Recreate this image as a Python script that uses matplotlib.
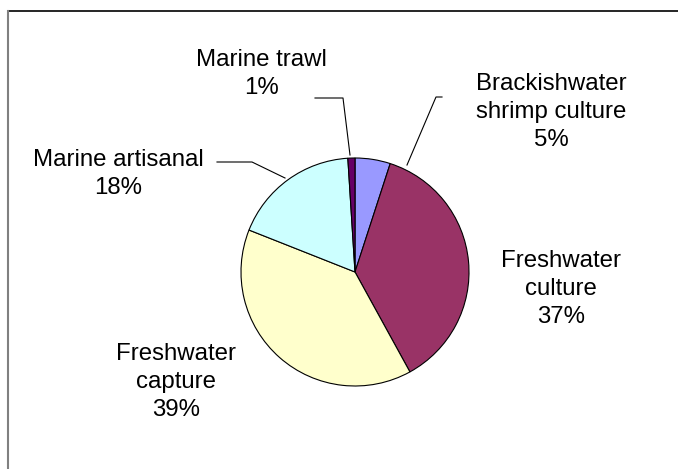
import matplotlib
matplotlib.use("Agg")
import matplotlib.pyplot as plt
from matplotlib.lines import Line2D
from matplotlib.patches import Rectangle

categories = ["Brackishwater\nshrimp culture", "Freshwater\nculture", "Freshwater\ncapture",
              "Marine artisanal", "Marine trawl"]
values = [5, 37, 39, 18, 1]
colors = ["#9999FF", "#993366", "#FFFFCC", "#CCFFFF", "#660066"]

W, H = 678, 469
plt.rcParams['font.family'] = ['Liberation Sans', 'DejaVu Sans']
fig = plt.figure(figsize=(W / 100, H / 100), dpi=100)
ax = fig.add_axes([0, 0, 1, 1])

def Y(py):
    return H - py

cx, cy, r = 355, Y(272), 114
ax.pie(values, colors=colors, startangle=90, counterclock=False,
       center=(cx, cy), radius=r,
       wedgeprops=dict(edgecolor="black", linewidth=0.8))
ax.set_xlim(0, W)
ax.set_ylim(0, H)
ax.set_aspect("auto")
ax.axis("off")

fs = 17.3
# label positions in pixel coordinates (centers)
label_pos = [(551, 112), (561, 289), (176, 382), (118, 174), (261, 74)]
for cat, v, (px, py) in zip(categories, values, label_pos):
    ax.text(px, Y(py), f"{cat}\n{v}%", ha="center", va="center",
            fontsize=fs, linespacing=1.36, color="black", zorder=3)

# the reference clips the bottom of the "5%" label
ax.add_patch(Rectangle((520, Y(162)), 70, 15, facecolor="white", edgecolor="none", zorder=4))

# leader lines
leaders = [
    [(442, 97), (436, 97), (407, 165)],
    [(315, 98), (343, 98), (350, 155)],
    [(217, 162), (252, 162), (285, 178)],
]
for pts in leaders:
    xs = [p[0] for p in pts]
    ys = [Y(p[1]) for p in pts]
    ax.plot(xs, ys, color="black", linewidth=0.8)

# outer frame (top and left edges)
fig.add_artist(Line2D([7.5 / W, 1.01], [1 - 11 / H, 1 - 11 / H], transform=fig.transFigure,
                      color="black", linewidth=1.2))
fig.add_artist(Line2D([7.5 / W, 7.5 / W], [-0.01, 1 - 11 / H], transform=fig.transFigure,
                      color="#808080", linewidth=1.5))

fig.savefig("out.png", dpi=100)
